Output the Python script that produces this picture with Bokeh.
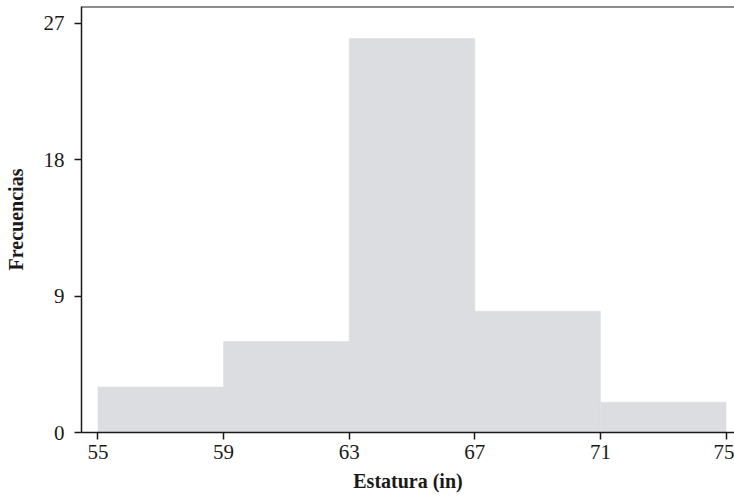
from bokeh.plotting import figure
from bokeh.models import Range1d, FixedTicker, Span
from bokeh.embed import file_html
from bokeh.resources import INLINE

bin_left = [55, 59, 63, 67, 71]
bin_right = [59, 63, 67, 71, 75]
counts = [3, 6, 26, 8, 2]
x_ticks = [55, 59, 63, 67, 71, 75]
y_ticks = [0, 9, 18, 27]

Y_END = 28.12

p = figure(width=734, height=497, output_backend="svg", toolbar_location=None,
           x_range=Range1d(54.475, 75.27), y_range=Range1d(0, Y_END),
           min_border_left=81, min_border_right=0, min_border_top=6, min_border_bottom=65)

p.quad(left=bin_left, right=bin_right, bottom=0, top=counts,
       fill_color="#dcdde0", line_color="#dcdde0", line_width=0.6)

p.xgrid.grid_line_color = None
p.ygrid.grid_line_color = None
p.outline_line_color = None
p.background_fill_color = "white"

p.add_layout(Span(location=Y_END, dimension="width", line_color="#1a1a1a", line_width=2))

for ax in (p.xaxis[0], p.yaxis[0]):
    ax.axis_line_color = "#1a1a1a"
    ax.axis_line_width = 1.5
    ax.major_tick_line_color = "#1a1a1a"
    ax.major_tick_line_width = 1.5
    ax.major_tick_out = 7
    ax.major_tick_in = 0
    ax.minor_tick_line_color = None
    ax.major_label_text_font = "Liberation Serif"
    ax.major_label_text_font_size = "21px"
    ax.major_label_text_color = "#1a1a1a"
    ax.axis_label_text_font = "Liberation Serif"
    ax.axis_label_text_font_style = "bold"
    ax.axis_label_text_font_size = "20px"
    ax.axis_label_text_color = "#1a1a1a"

p.xaxis.ticker = FixedTicker(ticks=x_ticks)
p.yaxis.ticker = FixedTicker(ticks=y_ticks)
p.xaxis.axis_label = "Estatura (in)"
p.yaxis.axis_label = "Frecuencias"
p.xaxis.major_label_standoff = 5
p.yaxis.major_label_standoff = 10
p.xaxis.axis_label_standoff = 8
p.yaxis.axis_label_standoff = 14

open("out.html", "w").write(file_html(p, INLINE))
